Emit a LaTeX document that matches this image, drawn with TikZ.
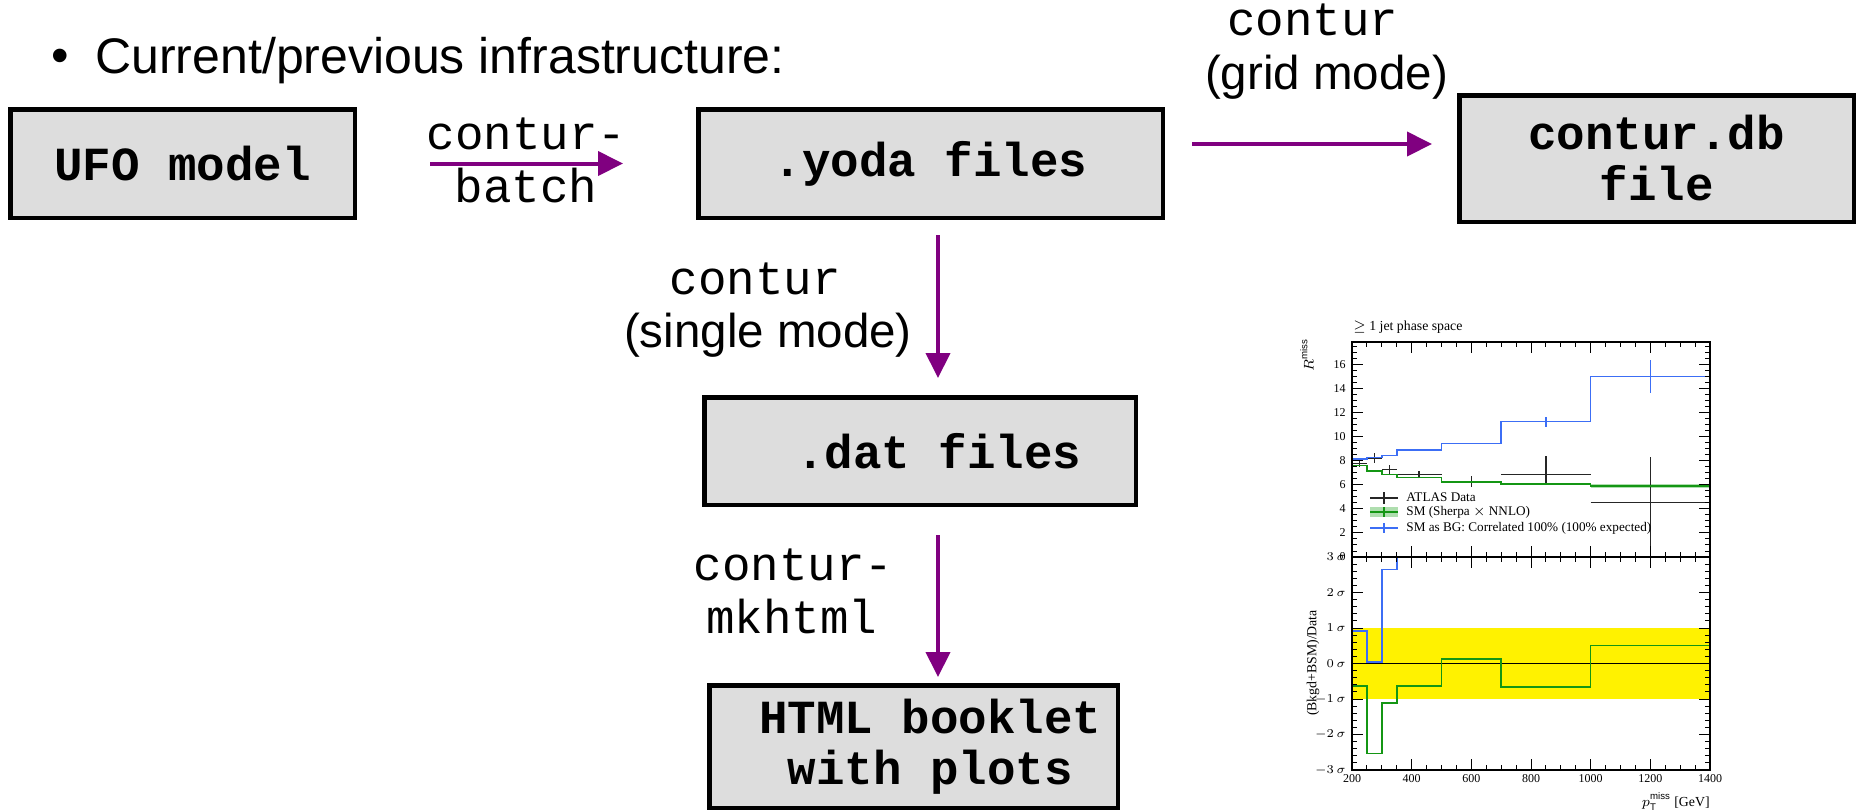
\documentclass[tikz,border=0pt]{standalone}
\usepackage{fontspec}
\setmainfont{Liberation Sans}
\newfontfamily\codefont{Liberation Mono}
\newfontfamily\plotfont{Liberation Serif}
\usepackage{tikz}
\usetikzlibrary{arrows.meta}

\definecolor{contpurple}{RGB}{128,0,128}
\definecolor{boxgray}{RGB}{221,221,221}
\definecolor{smgreen}{RGB}{20,150,20}
\definecolor{bandgreen}{RGB}{175,222,175}
\definecolor{bgblue}{RGB}{60,110,245}

\begin{document}
\begin{tikzpicture}[x=0.5pt, y=-0.5pt,
  every node/.style={inner sep=0pt},
  box/.style={draw=black, line width=2.25pt, fill=boxgray, align=center,
    font={\codefont\bfseries\fontsize{23.75pt}{25.5pt}\selectfont}},
  flow/.style={draw=contpurple, line width=2pt,
    -{Triangle[length=12.5pt,width=12pt]}},
  cmdlabel/.style={anchor=base, font={\codefont\fontsize{23.75pt}{25.5pt}\selectfont}},
  modelabel/.style={anchor=base, font={\fontsize{23.75pt}{25.5pt}\selectfont}},
  plotlbl/.style={font={\plotfont\fontsize{6.9pt}{8pt}\selectfont}},
  leglbl/.style={anchor=west, font={\plotfont\fontsize{6.6pt}{7pt}\selectfont}},
  plotnum/.style={font={\plotfont\fontsize{6pt}{7pt}\selectfont}}]
  \useasboundingbox (0,0) rectangle (1858,811);

  % heading
  \node[modelabel, font={\fontsize{25pt}{27pt}\selectfont}] (bullet) at (60,72) {•};
  \node[modelabel, anchor=base west, font={\fontsize{25pt}{27pt}\selectfont}]
    (heading) at (95,73) {Current/previous infrastructure:};

  % boxes
  \node[box, minimum width=172.25pt, minimum height=54.25pt] (ufo) at (182.5,163.5) {UFO model};
  \node[box, minimum width=232.25pt, minimum height=54.25pt] (yoda) at (930.5,163.5) {.yoda files};
  \node[box, minimum width=197.25pt, minimum height=63.25pt] (db) at (1656.5,158.5) {contur.db\\file};
  \node[box, minimum width=215.75pt, minimum height=53.75pt] (dat) at (920,451)
    {\hspace*{19pt}.dat files};
  \node[box, minimum width=204.25pt, minimum height=61.25pt] (html) at (913.5,746.5)
    {\hspace*{17pt}HTML booklet\\\hspace*{17pt}with plots};

  % arrows
  \draw[flow, shorten <=36.5pt, shorten >=36.5pt] (ufo.east) -- (yoda.west);
  \draw[flow, shorten <=13.5pt, shorten >=12.5pt]
    ([yshift=9.75pt]yoda.east) -- ([yshift=9.75pt]yoda.east -| db.west);
  \draw[flow, shorten <=7.5pt, shorten >=8.5pt]
    ([xshift=3.75pt]yoda.south) -- ([xshift=3.75pt]yoda.south |- dat.north);
  \draw[flow, shorten <=14pt, shorten >=3pt]
    ([xshift=9pt]dat.south) -- ([xshift=9pt]dat.south |- html.north);

  % arrow labels
  \node[cmdlabel] (batchA) at (526.5,149) {contur-};
  \node[cmdlabel] (batchB) at (526,202) {batch};
  \node[cmdlabel] (gridA) at (1312.5,35) {contur};
  \node[modelabel] (gridB) at (1326.5,89) {(grid mode)};
  \node[cmdlabel] (singleA) at (755.5,294) {contur};
  \node[modelabel] (singleB) at (768,347) {(single mode)};
  \node[cmdlabel] (mkA) at (793.5,580) {contur-};
  \node[cmdlabel] (mkB) at (792,633) {mkhtml};

  % example plot: upper panel
  \begin{scope}[shift={(1292.33,557)}, x=0.1491667pt, y=6.015pt]
    \fill[bandgreen] (1000,5.72) rectangle (1400,6.08);
    \draw[black!85, line width=0.7pt]
      (200,7.79) -- (250,7.79) (225,7.5) -- (225,8.06)
      (250,8.23) -- (300,8.23) (275,7.84) -- (275,8.62)
      (300,7.29) -- (350,7.29) (325,6.9) -- (325,7.65)
      (350,6.84) -- (500,6.84) (425,6.54) -- (425,7.17)
      (500,6.26) -- (700,6.26) (600,5.85) -- (600,6.76)
      (700,6.84) -- (1000,6.84) (850,5.99) -- (850,8.42)
      (1000,4.55) -- (1400,4.55) (1200,0.75) -- (1200,8.35);
    \draw[smgreen, line width=0.8pt] (200,7.62) -| (250,7.15) -| (300,6.87)
      -| (350,6.62) -| (500,6.26) -| (700,6.07) -| (1000,5.9) -- (1400,5.9);
    \draw[bgblue, line width=0.8pt] (200,8.15) -| (250,8.26) -| (300,8.45)
      -| (350,8.9) -| (500,9.42) -| (700,11.25) -| (1000,14.99) -- (1400,14.99);
    \draw[bgblue, line width=0.6pt] (850,10.83) -- (850,11.6) (1200,13.66) -- (1200,16.38);
    \draw[line width=0.7pt] (200,0) rectangle (1400,17.87);
    \foreach \t in {250,300,...,1350}
      \draw[line width=0.5pt] (\t,0) -- ++(0,0.42) (\t,17.87) -- ++(0,-0.42);
    \foreach \t in {400,600,...,1200}
      \draw[line width=0.5pt] (\t,0) -- ++(0,0.914) (\t,17.87) -- ++(0,-0.914);
    \foreach \v in {0.5,1,...,17.5}
      \draw[line width=0.5pt] (200,\v) -- ++(16.8,0) (1400,\v) -- ++(-16.8,0);
    \foreach \v in {2,4,...,16} {
      \draw[line width=0.5pt] (200,\v) -- ++(36.9,0) (1400,\v) -- ++(-36.9,0);
      \node[plotnum, anchor=east] (ytop\v) at (180,\v) {\v};
    }
    \node[plotnum, anchor=east] (ytop0) at (180,0) {0};
  \end{scope}

  % example plot: lower panel
  \begin{scope}[shift={(1292.33,663.5)}, x=0.1491667pt, y=17.75pt]
    \fill[yellow] (200,-1) rectangle (1400,1);
    \draw[black, line width=0.6pt] (200,0) -- (1400,0);
    \draw[bgblue, line width=0.8pt] (200,0.91) -| (250,0.05) -| (300,2.65) -| (350,3);
    \draw[smgreen, line width=0.8pt] (200,-0.63) -| (250,-2.53) -| (300,-1.12)
      -| (350,-0.63) -| (500,0.12) -| (700,-0.66) -| (1000,0.51) -- (1400,0.51);
    \draw[line width=0.7pt] (200,-3) rectangle (1400,3);
    \draw[line width=1pt] (200,3) -- (1400,3);
    \foreach \t in {250,300,...,1350}
      \draw[line width=0.5pt] (\t,-3) -- ++(0,0.14) (\t,3) -- ++(0,-0.14);
    \foreach \t in {400,600,...,1200}
      \draw[line width=0.5pt] (\t,-3) -- ++(0,0.31) (\t,3) -- ++(0,-0.31);
    \foreach \v in {-2.8,-2.6,...,2.9}
      \draw[line width=0.5pt] (200,\v) -- ++(16.8,0) (1400,\v) -- ++(-16.8,0);
    \foreach \v in {-2,...,2}
      \draw[line width=0.5pt] (200,\v) -- ++(36.9,0) (1400,\v) -- ++(-36.9,0);
    \foreach \v/\nm in {-3/m3,-2/m2,-1/m1,0/z0,1/p1,2/p2,3/p3}
      \node[plotnum, anchor=east] (ybot\nm) at (180,\v) {$\v\,\sigma$};
    \foreach \t in {200,400,...,1400}
      \node[plotnum, anchor=base] (xlab\t) at (\t,-3.35) {\t};
  \end{scope}

  % example plot: texts and legend
  \node[plotlbl, anchor=base west] (ptitle) at (1353,330) {$\geq$ 1 jet phase space};
  \node[plotlbl, rotate=90] (rlabel) at (1307,355) {$R^{\mathrm{miss}}$};
  \node[plotlbl, rotate=90] (ratiolabel) at (1313,663) {(Bkgd+BSM)/Data};
  \node[plotlbl, anchor=base east] (xtitle) at (1710,806) {$p_{\mathrm{T}}^{\mathrm{miss}}$ [GeV]};
  \draw[black!85, line width=0.7pt] (1370,498) -- (1398,498) (1384,492) -- (1384,504);
  \fill[bandgreen] (1370,507) rectangle (1398,517);
  \draw[smgreen, line width=0.8pt] (1370,512) -- (1398,512) (1384,507) -- (1384,517);
  \draw[bgblue, line width=0.6pt] (1370,528) -- (1398,528) (1384,523) -- (1384,533);
  \node[leglbl] (legdata) at (1406,497) {ATLAS Data};
  \node[leglbl] (legsm) at (1406,512.5) {SM (Sherpa $\times$ NNLO)};
  \node[leglbl] (legbg) at (1406,528) {SM as BG: Correlated 100\% (100\% expected)};
\end{tikzpicture}
\end{document}
